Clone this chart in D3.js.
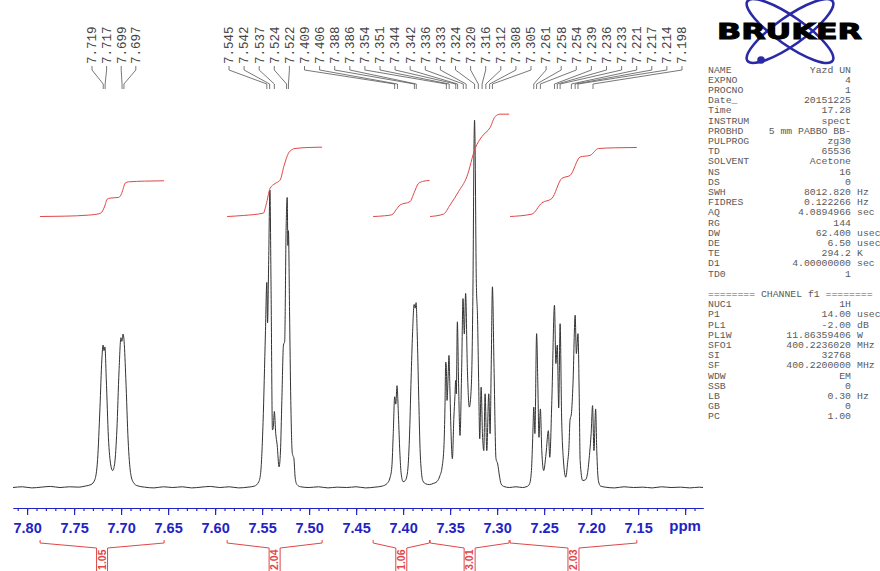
<!DOCTYPE html>
<html>
<head>
<meta charset="utf-8">
<script src="https://cdn.jsdelivr.net/npm/d3@7/dist/d3.min.js"></script>
<style>
  body { margin: 0; background: #fff; }
  #vis svg { display: block; }
</style>
</head>
<body>
<div id="vis"></div>
<script>
const width = 880, height = 571;

// peak picks written across the top (ppm)
const peakLabels = [7.719, 7.717, 7.699, 7.697,
    7.545, 7.542, 7.537, 7.524, 7.522, 7.409, 7.406, 7.388, 7.386,
    7.354, 7.351, 7.344, 7.342, 7.336, 7.333, 7.324, 7.320, 7.316, 7.312, 7.308, 7.305,
    7.261, 7.258, 7.254, 7.239, 7.236, 7.233, 7.221, 7.217, 7.214, 7.198];

// the 1H trace, [ppm, intensity] (tallest line = 100)
const spectrum = [
    [7.815, 0.4], [7.805, 0.6], [7.795, 0.3], [7.785, 0.5], [7.775, 0.7], [7.765, 0.4], [7.755, 0.6],
    [7.745, 0.5], [7.738, 0.8], [7.732, 1.2],
    [7.728, 2.5], [7.725, 8], [7.7225, 22], [7.7205, 35], [7.7192, 39], [7.7182, 37.5], [7.7172, 38.5],
    [7.7158, 30], [7.7135, 14], [7.711, 6.5], [7.709, 5], [7.7068, 7], [7.7045, 16], [7.7022, 32],
    [7.7002, 41], [7.6992, 40], [7.698, 42], [7.6968, 40], [7.695, 30], [7.6925, 13], [7.69, 4.5],
    [7.687, 1.8], [7.683, 0.9],
    [7.675, 0.5], [7.665, 0.3], [7.655, 0.6], [7.645, 0.4], [7.635, 0.6], [7.625, 0.3], [7.615, 0.5],
    [7.605, 0.7], [7.595, 0.4], [7.585, 0.6], [7.575, 0.3], [7.565, 0.5], [7.558, 0.8],
    [7.5535, 2], [7.5515, 4.5], [7.549, 18], [7.5465, 42], [7.545, 56], [7.5442, 45], [7.543, 62],
    [7.5417, 81], [7.5405, 55], [7.539, 16], [7.538, 17], [7.537, 21], [7.5355, 15], [7.534, 12],
    [7.532, 6], [7.5305, 10], [7.529, 24], [7.5273, 39], [7.526, 40], [7.5245, 70], [7.5233, 79],
    [7.5226, 66], [7.522, 70], [7.5208, 48], [7.5195, 24], [7.518, 10], [7.5172, 9], [7.5163, 8.5],
    [7.5148, 3], [7.513, 1.2], [7.509, 0.6],
    [7.500, 0.4], [7.490, 0.6], [7.480, 0.3], [7.470, 0.5], [7.460, 0.4], [7.450, 0.6], [7.440, 0.3],
    [7.430, 0.5], [7.422, 0.8], [7.417, 1.5], [7.414, 3],
    [7.412, 6], [7.4105, 15], [7.409, 25], [7.4078, 23], [7.4065, 28], [7.405, 20], [7.4035, 10],
    [7.402, 4], [7.400, 2], [7.398, 2.2], [7.396, 3.5], [7.3945, 7], [7.393, 16], [7.3915, 30],
    [7.39, 42], [7.3883, 50], [7.3872, 49], [7.3862, 50.5], [7.385, 42], [7.3835, 26], [7.382, 11],
    [7.3805, 4.5], [7.379, 2.2], [7.376, 1.4], [7.372, 1.2], [7.368, 1.5], [7.364, 2], [7.361, 3.5],
    [7.3585, 6],
    [7.3565, 12], [7.3555, 22], [7.3547, 34.4], [7.354, 33], [7.3533, 24], [7.3522, 30], [7.3512, 36.2],
    [7.3503, 28], [7.3494, 18.6], [7.3476, 8.2], [7.346, 19.5], [7.3449, 25], [7.3441, 29.4],
    [7.3434, 25.8], [7.3423, 45.3], [7.341, 28.5], [7.3395, 14.5], [7.3377, 33], [7.3363, 51.6],
    [7.3349, 42], [7.3335, 53], [7.3317, 33], [7.3296, 22.2], [7.3275, 27.6], [7.3257, 55],
    [7.3245, 95], [7.324, 100], [7.3234, 92], [7.3222, 57], [7.3208, 46], [7.3197, 30], [7.3185, 13.6],
    [7.317, 27.6], [7.3156, 15], [7.3142, 10.4], [7.3128, 25.8], [7.311, 10.4], [7.3089, 25.8],
    [7.3075, 15], [7.3062, 35], [7.305, 54.8], [7.3033, 33], [7.3012, 8.2], [7.2994, 6.8],
    [7.2975, 3.5], [7.2958, 1.4], [7.293, 0.7],
    [7.287, 0.4], [7.280, 0.6], [7.273, 0.4], [7.268, 0.7], [7.2655, 1.4],
    [7.2635, 5], [7.262, 15], [7.261, 22.2], [7.2598, 15], [7.258, 42.1], [7.2567, 28.5], [7.2555, 14],
    [7.254, 21.7], [7.2525, 10.4], [7.2505, 5], [7.248, 9.5], [7.2455, 15.8], [7.244, 8.6], [7.2418, 24],
    [7.239, 49.8], [7.2375, 34], [7.236, 39], [7.2345, 22], [7.233, 44.8], [7.2314, 19.5], [7.2297, 8.6],
    [7.227, 3.2], [7.225, 7.2], [7.2236, 11.3], [7.2225, 18.6], [7.221, 20.4], [7.2193, 28.5],
    [7.217, 47.1], [7.2157, 36.7], [7.214, 42.1], [7.2127, 25.8], [7.2117, 7.7], [7.209, 2.3],
    [7.206, 2.5], [7.204, 4], [7.2015, 10], [7.2, 15], [7.1985, 22.6], [7.197, 10.4], [7.1952, 21.7],
    [7.194, 10.4], [7.1923, 2.3], [7.190, 0.8],
    [7.185, 0.5], [7.175, 0.3], [7.165, 0.6], [7.155, 0.4], [7.145, 0.5], [7.135, 0.3], [7.125, 0.6],
    [7.115, 0.4], [7.105, 0.5], [7.095, 0.3], [7.085, 0.5], [7.081, 0.4]
];

// integration regions (ppm from, to) and their values
const integralRanges = [[7.7862, 7.6543], [7.5872, 7.4862], [7.4319, 7.372], [7.3713, 7.2872], [7.2862, 7.1514]];
const integralValues = [1.05, 2.04, 1.06, 3.01, 2.03];
// running integral curves, [ppm, cumulative]
const integralCurves = [
    [[7.7862, 0], [7.760, 0.01], [7.735, 0.04], [7.7223, 0.09], [7.719, 0.2], [7.7165, 0.38], [7.7152, 0.5],
     [7.712, 0.54], [7.7029, 0.56], [7.700, 0.64], [7.698, 0.8], [7.6957, 0.98], [7.692, 1.02], [7.675, 1.04], [7.6543, 1.05]],
    [[7.5872, 0], [7.570, 0.03], [7.5486, 0.1], [7.5457, 0.35], [7.5415, 0.83], [7.5362, 0.97], [7.5309, 1.07],
     [7.5266, 1.5], [7.522, 1.86], [7.518, 1.97], [7.515, 2.0], [7.5, 2.03], [7.4862, 2.04]],
    [[7.4319, 0], [7.42, 0.02], [7.412, 0.05], [7.4074, 0.2], [7.4032, 0.34], [7.3926, 0.44], [7.3883, 0.7],
     [7.3837, 0.97], [7.378, 1.04], [7.372, 1.06]],
    [[7.3713, 0], [7.3571, 0.07], [7.35, 0.34], [7.3411, 0.73], [7.3322, 1.17], [7.3234, 2.0], [7.3162, 2.35],
     [7.3074, 2.62], [7.3021, 2.94], [7.2968, 3.01], [7.2872, 3.01]],
    [[7.2862, 0], [7.2631, 0.07], [7.2524, 0.4], [7.2418, 0.53], [7.2312, 1.12], [7.2223, 1.21], [7.2117, 1.75],
     [7.201, 1.8], [7.1922, 2.0], [7.175, 2.02], [7.1514, 2.03]]
];

// axis ticks (7.10 is marked but carries "ppm" instead of a number)
const majorTicks = [7.80, 7.75, 7.70, 7.65, 7.60, 7.55, 7.50, 7.45, 7.40, 7.35, 7.30, 7.25, 7.20, 7.15, 7.10];

// acquisition / processing parameters
const paramNames = ['NAME', 'EXPNO', 'PROCNO', 'Date_', 'Time', 'INSTRUM', 'PROBHD', 'PULPROG', 'TD', 'SOLVENT',
    'NS', 'DS', 'SWH', 'FIDRES', 'AQ', 'RG', 'DW', 'DE', 'TE', 'D1', 'TD0'];
const paramValues = ['Yazd UN', '4', '1', '20151225', '17.28', 'spect', '5 mm PABBO BB-', 'zg30', '65536', 'Acetone',
    '16', '0', '8012.820', '0.122266', '4.0894966', '144', '62.400', '6.50', '294.2', '4.00000000', '1'];
const paramUnits = ['', '', '', '', '', '', '', '', '', '', '', '', 'Hz', 'Hz', 'sec', '', 'usec', 'usec', 'K', 'sec', ''];
const channelNames = ['NUC1', 'P1', 'PL1', 'PL1W', 'SFO1', 'SI', 'SF', 'WDW', 'SSB', 'LB', 'GB', 'PC'];
const channelValues = ['1H', '14.00', '-2.00', '11.86359406', '400.2236020', '32768', '400.2200000', 'EM', '0', '0.30', '0', '1.00'];
const channelUnits = ['', 'usec', 'dB', 'W', 'MHz', '', 'MHz', '', '', 'Hz', '', ''];

const svg = d3.select('#vis').append('svg')
    .attr('width', width)
    .attr('height', height)
    .style('background', '#fff');

// ppm runs right to left
const x = d3.scaleLinear().domain([7.815, 7.081]).range([13, 703]);
const y = d3.scaleLinear().domain([0, 100]).range([489, 120]);
const yInt = d3.scaleLinear().domain([0, 1]).range([216.5, 182.5]);

const mono = '"Liberation Mono", "DejaVu Sans Mono", monospace';
const sans = '"Liberation Sans", Arial, sans-serif';
const blue = '#2323c4';
const red = '#e04646';

// spectrum trace
svg.append('path')
    .datum(spectrum)
    .attr('fill', 'none')
    .attr('stroke', '#333')
    .attr('stroke-width', 1)
    .attr('d', d3.line().x(d => x(d[0])).y(d => y(d[1])).curve(d3.curveMonotoneX));

// integral curves
svg.append('g').selectAll('path')
    .data(integralCurves)
    .enter().append('path')
    .attr('fill', 'none')
    .attr('stroke', red)
    .attr('stroke-width', 1)
    .attr('d', d3.line().x(d => x(d[0])).y(d => yInt(d[1])).curve(d3.curveMonotoneX));

// peak labels with leader lines
const labelX = peakLabels.map((p, i) => i < 4 ? 92 + i * 14.6 : 229 + (i - 4) * 15.1);
const picks = svg.append('g');
picks.selectAll('path')
    .data(peakLabels)
    .enter().append('path')
    .attr('fill', 'none')
    .attr('stroke', '#555')
    .attr('stroke-width', 0.8)
    .attr('d', (d, i) => `M${labelX[i]},66V70L${x(d)},84V89`);
picks.selectAll('text')
    .data(peakLabels)
    .enter().append('text')
    .attr('transform', (d, i) => `translate(${labelX[i]},64) rotate(-90)`)
    .attr('dy', '0.35em')
    .style('font-family', mono)
    .style('font-size', '12.5px')
    .style('fill', '#444')
    .text(d => d.toFixed(3));

// ppm axis: major and minor ticks
const axisG = svg.append('g').attr('transform', 'translate(0,508)');
axisG.call(d3.axisBottom(x)
    .tickValues(d3.range(709, 782).map(d => d / 100))
    .tickSize(3).tickSizeOuter(0).tickFormat(''));
const majorG = svg.append('g').attr('transform', 'translate(0,508)');
majorG.call(d3.axisBottom(x)
    .tickValues(majorTicks)
    .tickSize(7).tickSizeOuter(0).tickPadding(8)
    .tickFormat(d => d === 7.10 ? '' : d3.format('.2f')(d)));
svg.selectAll('.domain, .tick line').attr('stroke', blue).attr('stroke-width', 1.2);
majorG.selectAll('text')
    .style('font-family', sans)
    .style('font-size', '14.5px')
    .style('font-weight', 'bold')
    .style('fill', blue);
svg.append('text')
    .attr('x', x(7.10))
    .attr('y', 531)
    .attr('text-anchor', 'middle')
    .style('font-family', sans)
    .style('font-size', '15px')
    .style('font-weight', 'bold')
    .style('fill', blue)
    .text('ppm');

// integral brackets under the axis
const brackets = svg.append('g');
integralRanges.forEach((r, i) => {
    const x0 = x(r[0]), x1 = x(r[1]), cx = (x0 + x1) / 2;
    brackets.append('path')
        .attr('fill', 'none')
        .attr('stroke', red)
        .attr('stroke-width', 1)
        .attr('d', `M${x0},540V543L${cx - 5.5},548V571M${cx + 5.5},571V548L${x1},543V540`);
    brackets.append('text')
        .attr('transform', `translate(${cx},549.5) rotate(-90)`)
        .attr('dy', '0.36em')
        .attr('text-anchor', 'end')
        .style('font-family', sans)
        .style('font-size', '10.5px')
        .style('font-weight', 'bold')
        .style('fill', red)
        .text(integralValues[i].toFixed(2));
});

// parameter block on the right
const table = svg.append('g')
    .style('font-family', mono)
    .style('font-size', '9.8px')
    .style('fill', '#5a5a5a');
function rows(names, values, units, top, step) {
    names.forEach((n, i) => {
        const yy = top + i * step;
        table.append('text').attr('x', 708).attr('y', yy).text(n);
        table.append('text').attr('x', 851).attr('y', yy).attr('text-anchor', 'end').text(values[i]);
        if (units[i]) table.append('text').attr('x', 857).attr('y', yy).text(units[i]);
    });
}
const rowStep = 10.2;
rows(paramNames, paramValues, paramUnits, 72.5, rowStep);
table.append('text').attr('x', 708).attr('y', 72.5 + 22 * rowStep).text('======== CHANNEL f1 ========');
rows(channelNames, channelValues, channelUnits, 72.5 + 23 * rowStep, rowStep);

// Bruker logo
const logo = svg.append('g');
[35, -35].forEach(a => {
    logo.append('ellipse')
        .attr('cx', 790).attr('cy', 31)
        .attr('rx', 52).attr('ry', 14)
        .attr('transform', `rotate(${a},790,31)`)
        .attr('fill', 'none')
        .attr('stroke', '#2a2aa6')
        .attr('stroke-width', 2.6);
});
logo.append('circle').attr('cx', 761).attr('cy', 60).attr('r', 3.8).attr('fill', '#2a2aa6');
logo.append('text')
    .attr('x', 717).attr('y', 38.5)
    .attr('textLength', 145)
    .attr('lengthAdjust', 'spacingAndGlyphs')
    .style('font-family', '"DejaVu Sans", sans-serif')
    .style('font-size', '22px')
    .style('font-weight', 'bold')
    .style('fill', '#000')
    .style('stroke', '#000')
    .style('stroke-width', 1)
    .text('BRUKER');
</script>
</body>
</html>
